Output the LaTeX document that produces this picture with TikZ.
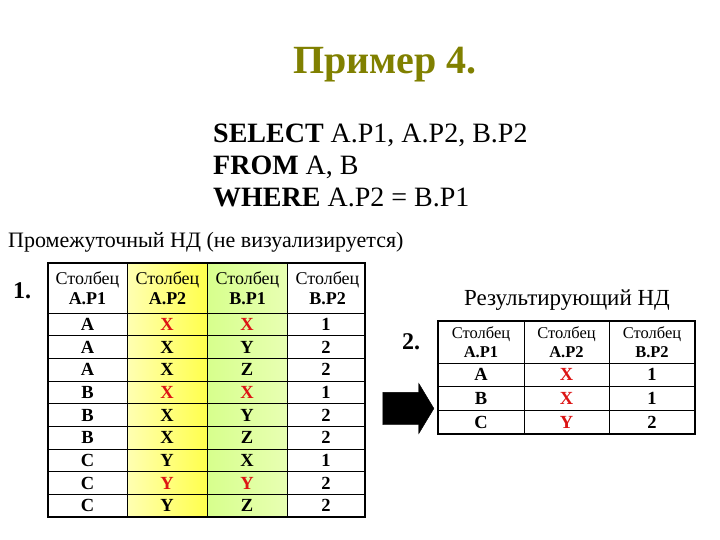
\documentclass[tikz,border=0pt]{standalone}
\usepackage{fontspec}
\setmainfont{Liberation Serif}
\usetikzlibrary{shapes.arrows}
\definecolor{olivet}{RGB}{128,128,0}
\definecolor{redx}{RGB}{220,20,20}
\begin{document}
\begin{tikzpicture}[x=1pt,y=-1pt,
  hdr/.style={align=center,font=\fontsize{18}{20}\selectfont,inner sep=0pt},
  rhdr/.style={align=center,font=\fontsize{16.5}{19}\selectfont,inner sep=0pt},
  val/.style={font=\fontsize{18.5}{18}\selectfont\bfseries,inner sep=0pt},
  grid/.style={line width=0.6pt},
  frame/.style={line width=1.6pt}]
\useasboundingbox (0,0) rectangle (720,540);
\node[text=olivet,font=\fontsize{40}{44}\selectfont\bfseries] (title) at (385,65) {Пример 4.};
\node[anchor=west,align=left,font=\fontsize{28}{32}\selectfont,inner sep=0pt] (sql) at (213,165)
 {\textbf{SELECT} A.P1, A.P2, B.P2\\\textbf{FROM} A, B\\\textbf{WHERE} A.P2 = B.P1};
\node[anchor=west,font=\fontsize{22}{24}\selectfont,inner sep=0pt] (mid) at (8,242) {Промежуточный НД (не визуализируется)};
\node[font=\fontsize{24}{24}\selectfont\bfseries,inner sep=0pt] (n1) at (22,291) {1.};
% left table
\shade[left color=yellow!30,right color=yellow!70] (127,263) rectangle (207,517);
\shade[left color=green!35!yellow!45,right color=green!30!yellow!30] (207,263) rectangle (287,517);
\foreach \y in {313,335.7,358.3,381,403.7,426.3,449,471.7,494.3} \draw[grid] (48,\y) -- (365,\y);
\foreach \x in {127,207,287} \draw[grid] (\x,263) -- (\x,517);
\draw[frame] (48,263) rectangle (365,517);
\foreach \t [count=\i] in {A.P1,A.P2,B.P1,B.P2}
  \node[hdr] (lh\i) at (87.5+80*\i-80,288) {Столбец\\\textbf{\t}};
\foreach \a/\b/\c/\d [count=\r] in {A/\textcolor{redx}{X}/\textcolor{redx}{X}/1,A/X/Y/2,A/X/Z/2,B/\textcolor{redx}{X}/\textcolor{redx}{X}/1,B/X/Y/2,B/X/Z/2,C/Y/X/1,C/\textcolor{redx}{Y}/\textcolor{redx}{Y}/2,C/Y/Z/2}{
  \pgfmathsetmacro\yy{313+22.67*\r-11.33}
  \node[val] (la\r) at (87.5,\yy) {\a};
  \node[val] (lb\r) at (167,\yy) {\b};
  \node[val] (lc\r) at (247,\yy) {\c};
  \node[val] (ld\r) at (326,\yy) {\d};
}
% right part
\node[font=\fontsize{23}{24}\selectfont,inner sep=0pt] (res) at (567,300) {Результирующий НД};
\node[font=\fontsize{24}{24}\selectfont\bfseries,inner sep=0pt] (n2) at (411,342) {2.};
\node[single arrow,fill=black,draw=black,minimum height=51pt,minimum width=50pt,
  text height=0pt,text depth=0pt,text width=0pt,inner ysep=16pt,inner xsep=0pt,
  single arrow head extend=9pt,single arrow tip angle=118] (arr) at (403.5,408.5) {};
\foreach \y in {363,386.7,410.3} \draw[grid] (438,\y) -- (695,\y);
\foreach \x in {524,609} \draw[grid] (\x,321) -- (\x,434);
\draw[frame] (438,321) rectangle (695,434);
\foreach \t/\x [count=\i] in {A.P1/481,A.P2/566.5,B.P2/652}
  \node[rhdr] (rh\i) at (\x,342) {Столбец\\\textbf{\t}};
\foreach \a/\b/\c [count=\r] in {A/X/1,B/X/1,C/Y/2}{
  \pgfmathsetmacro\yy{363+23.67*\r-11.83}
  \node[val] (ra\r) at (481,\yy) {\a};
  \node[val,text=redx] (rb\r) at (566.5,\yy) {\b};
  \node[val] (rc\r) at (652,\yy) {\c};
}
\end{tikzpicture}
\end{document}
